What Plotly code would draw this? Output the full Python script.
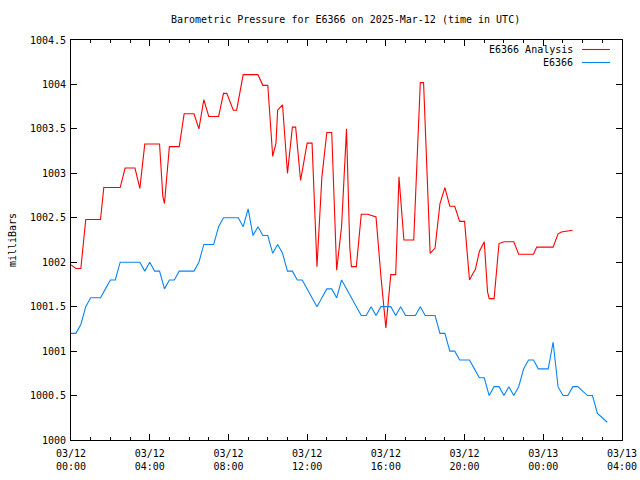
import pandas as pd
import plotly.graph_objects as go

# ---------------- data ----------------
start = pd.Timestamp("2025-03-12 00:00")

# E6366 observations, every 15 minutes from 00:00
obs_values = [
    1001.2, 1001.2, 1001.3, 1001.5, 1001.6, 1001.6, 1001.6, 1001.7, 1001.8, 1001.8,
    1002.0, 1002.0, 1002.0, 1002.0, 1002.0, 1001.9, 1002.0, 1001.9, 1001.9, 1001.7,
    1001.8, 1001.8, 1001.9, 1001.9, 1001.9, 1001.9, 1002.0, 1002.2, 1002.2, 1002.2,
    1002.4, 1002.5, 1002.5, 1002.5, 1002.5, 1002.4, 1002.6, 1002.3, 1002.4, 1002.3,
    1002.3, 1002.1, 1002.2, 1002.1, 1001.9, 1001.9, 1001.8, 1001.8, 1001.7, 1001.6,
    1001.5, 1001.6, 1001.7, 1001.7, 1001.6, 1001.8, 1001.7, 1001.6, 1001.5, 1001.4,
    1001.4, 1001.5, 1001.4, 1001.5, 1001.5, 1001.5, 1001.4, 1001.5, 1001.4, 1001.4,
    1001.4, 1001.5, 1001.4, 1001.4, 1001.4, 1001.2, 1001.2, 1001.0, 1001.0, 1000.9,
    1000.9, 1000.9, 1000.8, 1000.7, 1000.7, 1000.5, 1000.6, 1000.6, 1000.5, 1000.6,
    1000.5, 1000.6, 1000.8, 1000.9, 1000.9, 1000.8, 1000.8, 1000.8, 1001.1, 1000.6,
    1000.5, 1000.5, 1000.6, 1000.6, 1000.55, 1000.5, 1000.5, 1000.3, 1000.25, 1000.2,
]
obs_times = pd.date_range(start, periods=len(obs_values), freq="15min")

# E6366 Analysis: minutes after 00:00 and values
ana_minutes = [
    0, 15, 30, 35, 45, 90, 100, 150, 165, 195, 210, 215, 225, 270, 280, 285, 295, 300,
    330, 345, 375, 390, 405, 420, 450, 465, 475, 495, 505, 525, 570, 585, 600, 605,
    615, 625, 630, 645, 655, 660, 675, 685, 700, 720, 735, 750, 765, 780, 795, 810,
    825, 835, 840, 850, 855, 870, 885, 905, 930, 945, 960, 975, 990, 1000, 1015,
    1045, 1065, 1075, 1095, 1110, 1125, 1140, 1155, 1170, 1185, 1200, 1215, 1225,
    1233, 1245, 1260, 1270, 1275, 1290, 1305, 1320, 1350, 1365, 1410, 1420, 1470,
    1485, 1495, 1529,
]
ana_values = [
    1001.97, 1001.93, 1001.93, 1002.1, 1002.48, 1002.48, 1002.84, 1002.84, 1003.06,
    1003.06, 1002.83, 1003.0, 1003.33, 1003.33, 1002.74, 1002.66, 1003.07, 1003.3,
    1003.3, 1003.67, 1003.67, 1003.5, 1003.83, 1003.64, 1003.64, 1003.9, 1003.9,
    1003.71, 1003.71, 1004.11, 1004.11, 1003.99, 1003.99, 1003.75, 1003.19, 1003.34,
    1003.71, 1003.77, 1003.3, 1003.0, 1003.52, 1003.52, 1002.92, 1003.34, 1003.34,
    1001.95, 1002.96, 1003.46, 1003.46, 1001.91, 1002.4, 1003.15, 1003.5, 1002.17,
    1001.95, 1001.95, 1002.54, 1002.54, 1002.51, 1001.84, 1001.26, 1001.86, 1001.86,
    1002.96, 1002.25, 1002.25, 1004.02, 1004.02, 1002.1, 1002.16, 1002.66, 1002.84,
    1002.63, 1002.63, 1002.46, 1002.46, 1001.8, 1001.87, 1001.92, 1002.12, 1002.23,
    1001.67, 1001.59, 1001.59, 1002.21, 1002.23, 1002.23, 1002.09, 1002.09, 1002.17,
    1002.17, 1002.32, 1002.34, 1002.36,
]
ana_times = start + pd.to_timedelta(ana_minutes, unit="min")

x_tick_hours = [0, 4, 8, 12, 16, 20, 24, 28]
x_tick_labels = ["03/12<br>00:00", "03/12<br>04:00", "03/12<br>08:00", "03/12<br>12:00",
                 "03/12<br>16:00", "03/12<br>20:00", "03/13<br>00:00", "03/13<br>04:00"]
y_tick_vals = [1000, 1000.5, 1001, 1001.5, 1002, 1002.5, 1003, 1003.5, 1004, 1004.5]
y_tick_labels = ["1000", "1000.5", "1001", "1001.5", "1002", "1002.5", "1003",
                 "1003.5", "1004", "1004.5"]

series_names = ["E6366 Analysis", "E6366"]
RED = "#ff0000"
BLUE = "#0a84f5"
FONT = "DejaVu Sans Mono"

# ---------------- figure ----------------
fig = go.Figure()
fig.add_trace(go.Scatter(x=ana_times, y=ana_values, mode="lines", name=series_names[0],
                         line=dict(color=RED, width=1.1), showlegend=False))
fig.add_trace(go.Scatter(x=obs_times, y=obs_values, mode="lines", name=series_names[1],
                         line=dict(color=BLUE, width=1.1), showlegend=False))

tick_times = [start + pd.Timedelta(hours=h) for h in x_tick_hours]

fig.update_layout(
    width=640, height=480, autosize=False,
    margin=dict(l=71, r=18, t=40, b=40, autoexpand=False),
    paper_bgcolor="white", plot_bgcolor="white",
    font=dict(family=FONT, size=10, color="black"),
    title=dict(text="Barometric Pressure for E6366 on 2025-Mar-12 (time in UTC)",
               x=0.54, xanchor="center", y=1 - 19 / 480, yanchor="middle",
               font=dict(family=FONT, size=10, color="black")),
    xaxis=dict(
        type="date",
        range=[start, start + pd.Timedelta(hours=28)],
        tickvals=tick_times, ticktext=x_tick_labels,
        ticks="inside", ticklen=6, tickcolor="black", tickwidth=1,
        ticklabelstandoff=4,
        showline=True, linecolor="black", linewidth=1, mirror="ticks",
        showgrid=False, zeroline=False,
        minor=dict(dtick=3600000, ticks="inside", ticklen=3, tickcolor="black", showgrid=False),
        tickfont=dict(family=FONT, size=10, color="black"),
    ),
    yaxis=dict(
        range=[1000, 1004.5],
        tickvals=y_tick_vals, ticktext=y_tick_labels,
        ticks="inside", ticklen=6, tickcolor="black", tickwidth=1,
        ticklabelstandoff=2,
        showline=True, linecolor="black", linewidth=1, mirror="ticks",
        showgrid=False, zeroline=False,
        tickfont=dict(family=FONT, size=10, color="black"),
    ),
)

# y-axis title
fig.add_annotation(text="milliBars", xref="paper", yref="paper", x=-0.107, y=0.5,
                   xanchor="center", yanchor="middle", textangle=-90, showarrow=False,
                   font=dict(family=FONT, size=10, color="black"))

# legend (text right-aligned, sample line to the right, gnuplot style)
legend_rows = [(series_names[0], RED, 1 - 9.5 / 400), (series_names[1], BLUE, 1 - 22.5 / 400)]
for name, col, yy in legend_rows:
    fig.add_annotation(text=name, xref="paper", yref="paper", x=(575 - 71) / 551, y=yy,
                       xanchor="right", yanchor="middle", showarrow=False,
                       font=dict(family=FONT, size=10, color="black"))
    fig.add_shape(type="line", xref="paper", yref="paper",
                  x0=(582 - 71) / 551, x1=(610 - 71) / 551, y0=yy, y1=yy,
                  line=dict(color=col, width=1.1))

fig.write_html(
    "out.html",
    config={"responsive": False, "displayModeBar": False},
    post_script="document.body.style.margin='0';document.body.style.overflow='hidden';",
)
